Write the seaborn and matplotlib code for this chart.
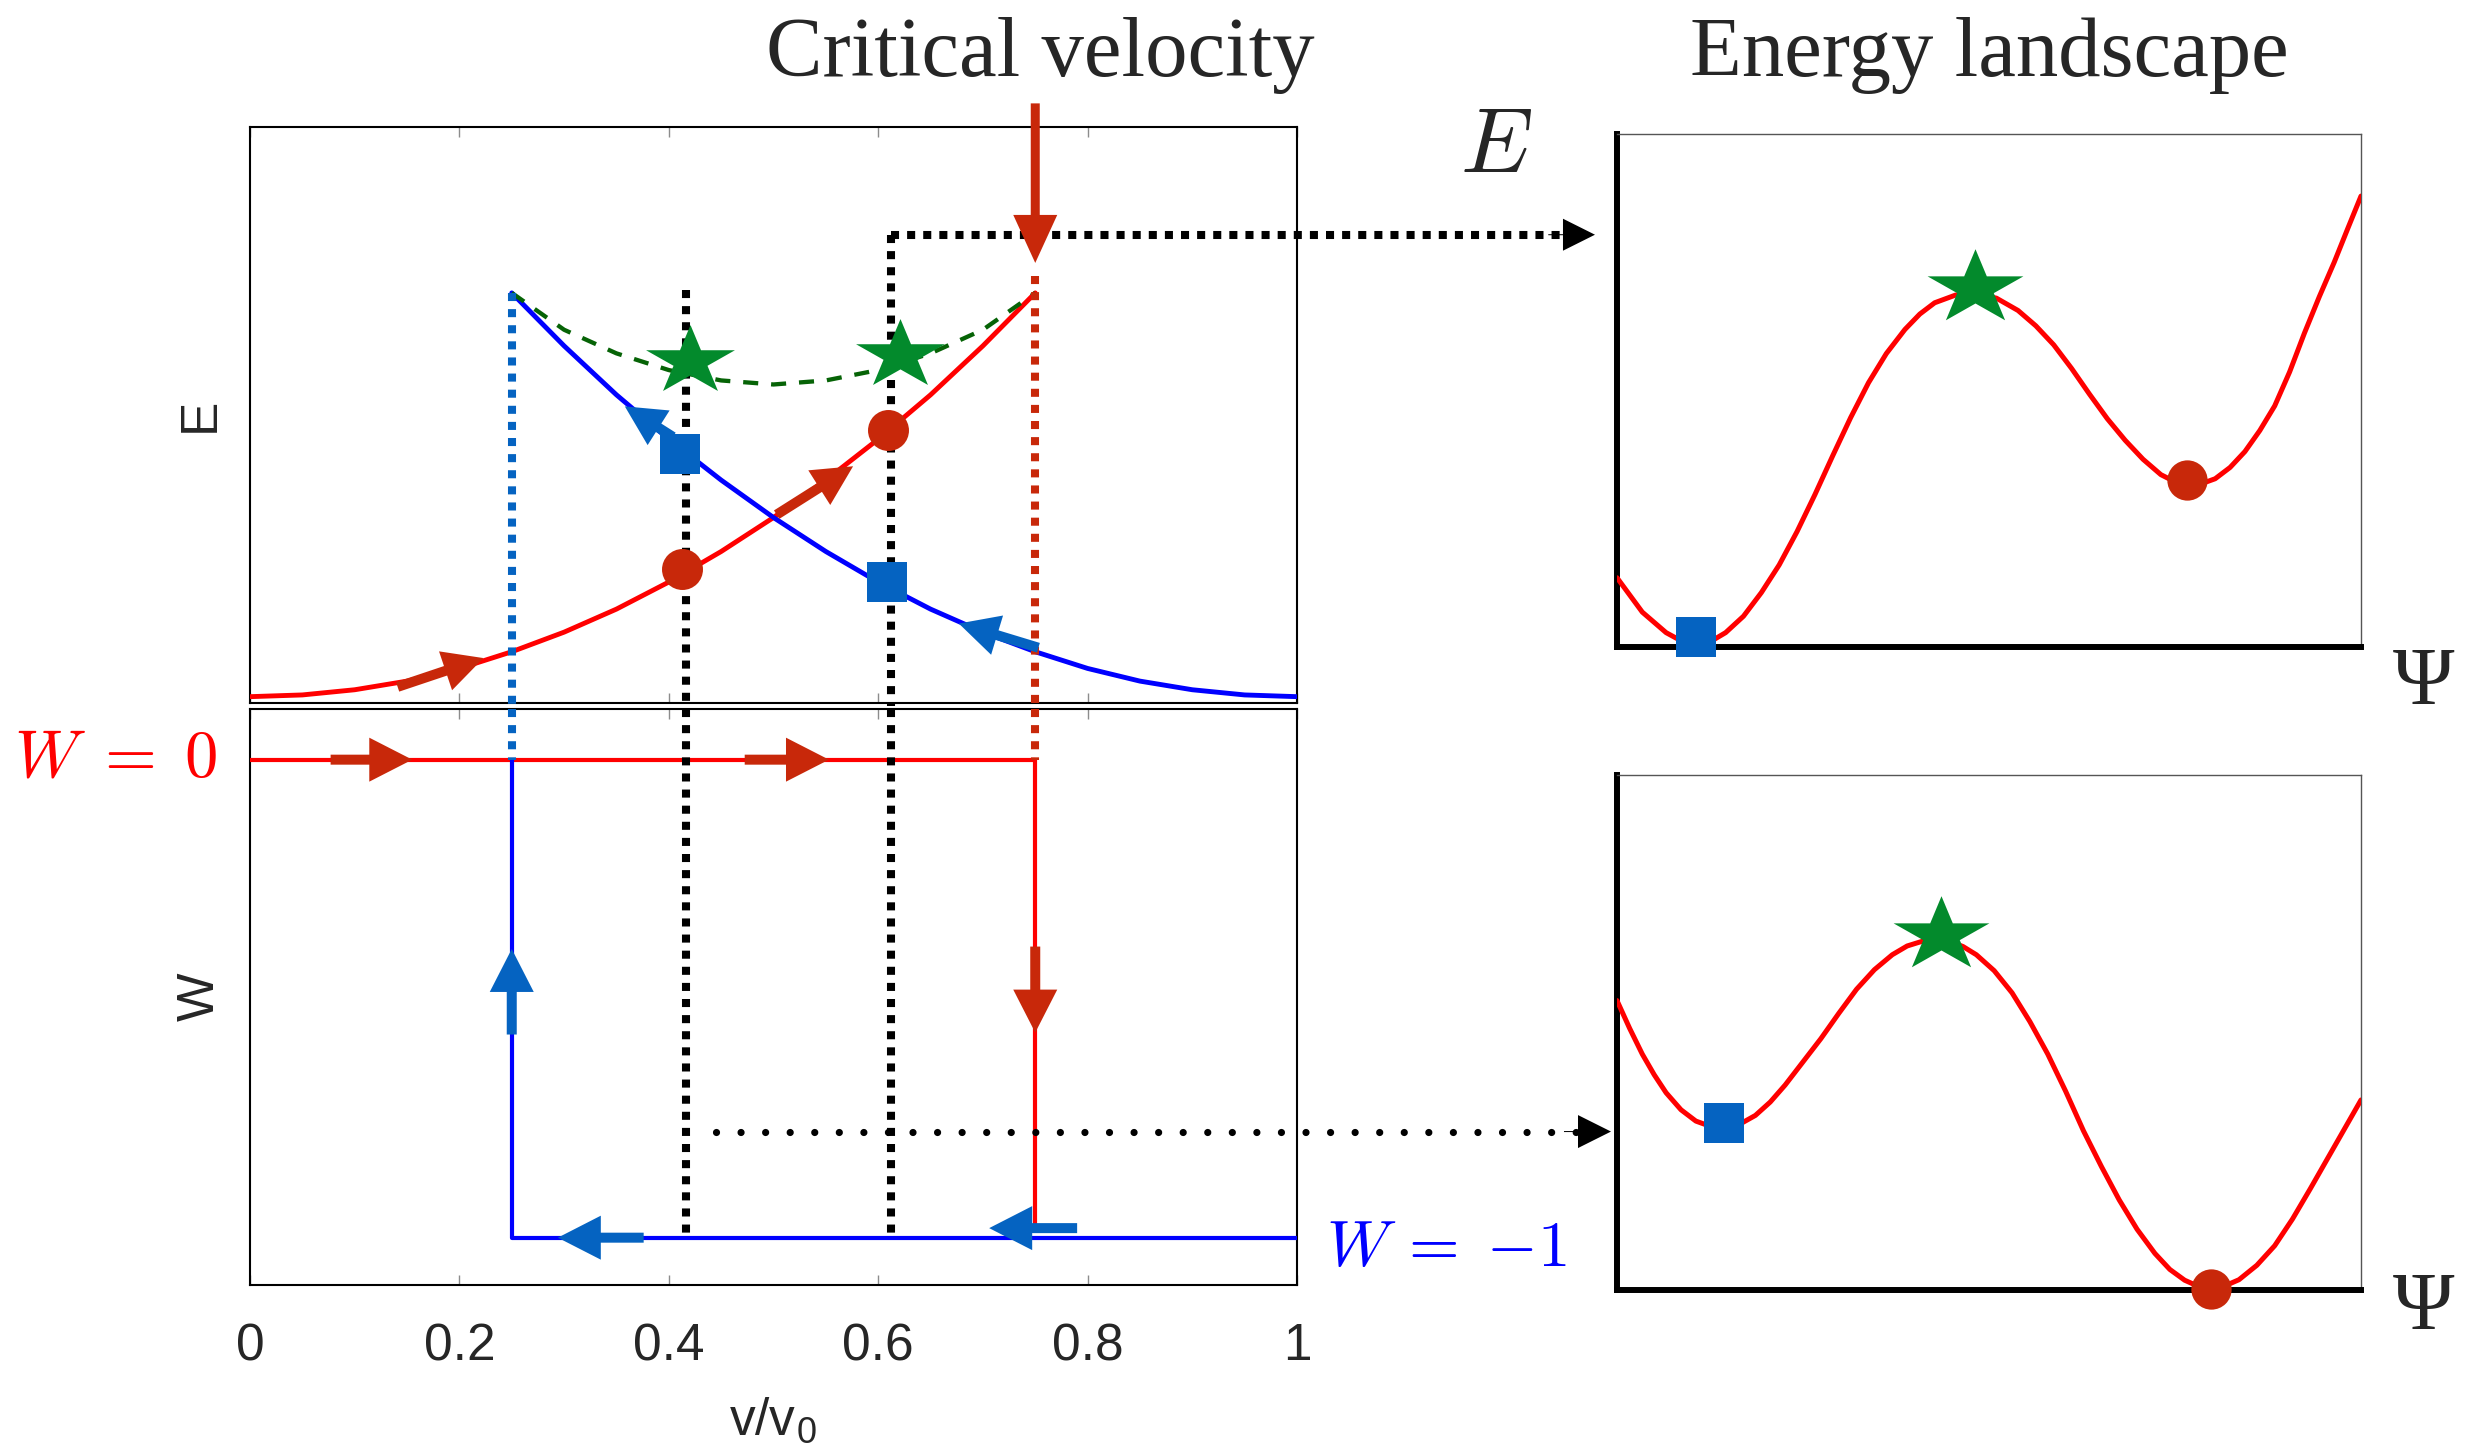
import matplotlib
matplotlib.use("Agg")
import matplotlib.pyplot as plt
from matplotlib.patches import ArrowStyle
from matplotlib.path import Path
import seaborn as sns

# ---------------- data ----------------
v_ticks = [0, 0.2, 0.4, 0.6, 0.8, 1.0]
v_tick_labels = ["0", "0.2", "0.4", "0.6", "0.8", "1"]

# energy of the W=0 branch (red) and the W=-1 branch (blue)
v_state0 = [0.00, 0.05, 0.10, 0.15, 0.20, 0.25, 0.30, 0.35, 0.40, 0.45, 0.50, 0.55, 0.60, 0.65, 0.70, 0.75]
E_state0 = [0.011, 0.014, 0.023, 0.038, 0.060, 0.089, 0.123, 0.163, 0.210, 0.263, 0.322, 0.387, 0.458, 0.535, 0.620, 0.712]
v_state1 = [0.25, 0.30, 0.35, 0.40, 0.45, 0.50, 0.55, 0.60, 0.65, 0.70, 0.75, 0.80, 0.85, 0.90, 0.95, 1.00]
E_state1 = [0.712, 0.620, 0.535, 0.458, 0.387, 0.322, 0.263, 0.210, 0.163, 0.123, 0.089, 0.060, 0.038, 0.023, 0.014, 0.011]
# saddle (barrier) energy
v_saddle = [0.25, 0.30, 0.35, 0.40, 0.45, 0.50, 0.55, 0.60, 0.65, 0.70, 0.75]
E_saddle = [0.712, 0.648, 0.607, 0.578, 0.560, 0.553, 0.560, 0.578, 0.607, 0.648, 0.712]

# winding number branches
v_W0 = [0.0, 0.75, 0.75]
W_W0 = [0.0, 0.0, -0.975]
v_W1 = [1.0, 0.25, 0.25]
W_W1 = [-1.0, -1.0, 0.0]

# characteristic velocities
v_down = 0.25
v_up = 0.75
v_a = 0.416
v_b = 0.612

# state markers on the E(v) panel
circle_v = [0.413, 0.609]
circle_E = [0.233, 0.474]
square_v = [0.411, 0.608]
square_E = [0.433, 0.210]
star_v = [0.420, 0.621]
star_E = [0.593, 0.604]

# energy landscapes E(Psi)
psi_top = [0.000, 0.034, 0.066, 0.085, 0.106, 0.125, 0.146, 0.170, 0.194, 0.218, 0.242, 0.266, 0.290,
           0.314, 0.338, 0.362, 0.387, 0.407, 0.427, 0.455, 0.481, 0.510, 0.539, 0.563, 0.587, 0.611,
           0.635, 0.659, 0.683, 0.707, 0.731, 0.750, 0.766, 0.785, 0.804, 0.824, 0.844, 0.864, 0.884,
           0.904, 0.924, 0.944, 0.964, 0.982, 1.000]
E_land_top = [0.135, 0.068, 0.028, 0.013, 0.006, 0.010, 0.028, 0.060, 0.106, 0.160, 0.225, 0.297, 0.373,
              0.447, 0.515, 0.572, 0.619, 0.649, 0.671, 0.686, 0.690, 0.680, 0.656, 0.626, 0.589, 0.543,
              0.493, 0.445, 0.403, 0.366, 0.336, 0.322, 0.317, 0.318, 0.328, 0.350, 0.381, 0.422, 0.470,
              0.536, 0.612, 0.683, 0.750, 0.815, 0.879]
psi_bot = [0.000, 0.017, 0.034, 0.050, 0.066, 0.086, 0.106, 0.125, 0.144, 0.165, 0.186, 0.206, 0.226,
           0.250, 0.274, 0.298, 0.322, 0.346, 0.370, 0.390, 0.410, 0.427, 0.445, 0.465, 0.483, 0.507,
           0.531, 0.555, 0.579, 0.603, 0.627, 0.651, 0.675, 0.699, 0.723, 0.743, 0.763, 0.780, 0.798,
           0.817, 0.836, 0.860, 0.884, 0.908, 0.932, 0.966, 1.000]
E_land_bot = [0.562, 0.508, 0.458, 0.418, 0.383, 0.350, 0.328, 0.318, 0.316, 0.322, 0.339, 0.365, 0.398,
              0.443, 0.488, 0.537, 0.584, 0.622, 0.651, 0.668, 0.677, 0.682, 0.678, 0.667, 0.651, 0.620,
              0.577, 0.521, 0.458, 0.386, 0.309, 0.240, 0.175, 0.118, 0.071, 0.040, 0.019, 0.008, 0.004,
              0.008, 0.020, 0.048, 0.086, 0.138, 0.197, 0.283, 0.369]
# marker positions in the landscapes: (square, star, circle)
top_sq = (0.106, 0.020)
top_star = (0.481, 0.700)
top_circ = (0.766, 0.325)
bot_sq = (0.144, 0.325)
bot_star = (0.435, 0.689)
bot_circ = (0.798, 0.002)

# ---------------- style ----------------
sns.set_theme(style="white")
plt.rcParams["font.family"] = ["Liberation Sans", "DejaVu Sans"]
plt.rcParams["mathtext.fontset"] = "cm"

RED = "#ff0000"
BLUE = "#0000ff"
DRED = "#c8280a"
DBLUE = "#0563c1"
GREEN = "#038a2c"
DGREEN = "#066306"

FW, FH = 2481, 1447
fig = plt.figure(figsize=(FW / 100, FH / 100), dpi=100)
fig.patch.set_facecolor("white")

axE = fig.add_axes([250 / FW, 1 - 703 / FH, 1047 / FW, 576 / FH])
axW = fig.add_axes([250 / FW, 1 - 1285 / FH, 1047 / FW, 576 / FH])
axL1 = fig.add_axes([1617 / FW, 1 - 647 / FH, 744 / FW, 513 / FH])
axL2 = fig.add_axes([1617 / FW, 1 - 1290 / FH, 744 / FW, 515 / FH])

# squashed star marker
sv = Path.unit_regular_star(5, 0.381966).vertices.copy()
sv[:, 1] *= 0.78
STAR = Path(sv)

# ---------------- left panels ----------------
for ax in (axE, axW):
    ax.set_facecolor("white")
    for sp in ax.spines.values():
        sp.set_linewidth(1.5)
        sp.set_color("black")
    ax.set_xlim(0, 1)
    ax.set_yticks([])
    ax.set_xticks(v_ticks)
    ax.tick_params(axis="x", direction="in", top=True, bottom=True, length=7,
                   width=1.0, color="#8c8c8c", labelsize=37, pad=27)
axE.set_ylim(0, 1)
axW.set_ylim(-1.099, 0.106)
axE.tick_params(labelbottom=False)
axW.set_xticklabels(v_tick_labels)
axW.set_xlabel(r"v/v$_\mathregular{0}$", fontsize=37, labelpad=18)
axE.set_ylabel("E", fontsize=37)
axW.set_ylabel("W", fontsize=37)
axE.yaxis.set_label_coords(-0.024, 0.5)
axW.yaxis.set_label_coords(-0.024, 0.5)

# curves
sns.lineplot(x=v_state0, y=E_state0, ax=axE, color=RED, linewidth=3.5, sort=False, estimator=None, zorder=3)
sns.lineplot(x=v_state1, y=E_state1, ax=axE, color=BLUE, linewidth=3.5, sort=False, estimator=None, zorder=3)
sns.lineplot(x=v_saddle, y=E_saddle, ax=axE, color=DGREEN, linewidth=3.1, sort=False, estimator=None,
             linestyle=(0, (3.5, 3.0)), zorder=3)
sns.lineplot(x=v_W0, y=W_W0, ax=axW, color=RED, linewidth=3.0, sort=False, estimator=None, zorder=3)
sns.lineplot(x=v_W1, y=W_W1, ax=axW, color=BLUE, linewidth=3.0, sort=False, estimator=None, zorder=3)

# dotted guide lines
sq_dot = dict(linestyle=(0, (1, 1)), linewidth=5.8, clip_on=False, zorder=4)
axE.plot([v_a, v_a], [0.717, -0.006], color="black", **sq_dot)
axW.plot([v_a, v_a], [0.106, -1.005], color="black", **sq_dot)
axE.plot([v_b, v_b], [0.813, -0.006], color="black", **sq_dot)
axW.plot([v_b, v_b], [0.106, -1.0], color="black", **sq_dot)
axE.plot([v_b, 1.258], [0.813, 0.813], color="black", **sq_dot)
axE.plot([v_down, v_down], [0.712, -0.006], color=DBLUE, **sq_dot)
axW.plot([v_down, v_down], [0.106, 0.0], color=DBLUE, **sq_dot)
axE.plot([v_up, v_up], [0.742, -0.006], color=DRED, **sq_dot)
axW.plot([v_up, v_up], [0.106, 0.0], color=DRED, **sq_dot)
axW.plot([0.445, 1.268], [-0.778, -0.778], color="black", linestyle=(0, (0.001, 3.4)),
         linewidth=5.2, dash_capstyle="round", clip_on=False, zorder=4)


def arrow(ax, tail, tip, color, hl, hw, tw, z=6):
    ax.annotate("", xy=tip, xytext=tail, xycoords="data", textcoords="data",
                arrowprops=dict(arrowstyle=ArrowStyle.Simple(head_length=hl, head_width=hw, tail_width=tw),
                                mutation_scale=0.72, color=color, lw=0, shrinkA=0, shrinkB=0),
                annotation_clip=False, zorder=z)


# direction arrows on the curves
arrow(axE, (0.141, 0.028), (0.223, 0.078), DRED, 40, 41, 10)
arrow(axE, (0.503, 0.327), (0.576, 0.411), DRED, 40, 41, 10)
arrow(axE, (0.404, 0.462), (0.358, 0.515), DBLUE, 40, 41, 10)
arrow(axE, (0.753, 0.096), (0.677, 0.138), DBLUE, 40, 41, 10)
arrow(axW, (0.077, 0.0), (0.155, 0.0), DRED, 43, 44, 10)
arrow(axW, (0.4725, 0.0), (0.553, 0.0), DRED, 43, 44, 10)
arrow(axW, (0.75, -0.391), (0.75, -0.571), DRED, 43, 44, 10)
arrow(axW, (0.25, -0.575), (0.25, -0.396), DBLUE, 43, 44, 10)
arrow(axW, (0.376, -1.0), (0.294, -1.0), DBLUE, 43, 44, 10)
arrow(axW, (0.79, -0.98), (0.706, -0.98), DBLUE, 43, 44, 10)
# big red arrow (critical velocity)
arrow(axE, (0.75, 1.041), (0.75, 0.764), DRED, 48, 44, 9)
# black arrow heads for the dotted pointers
arrow(axE, (1.24, 0.813), (1.2846, 0.813), "black", 32, 32, 1)
arrow(axW, (1.255, -0.778), (1.2999, -0.778), "black", 33, 33, 1)

# markers
sns.scatterplot(x=circle_v, y=circle_E, ax=axE, marker="o", s=29.5 ** 2, color=DRED, linewidth=0, zorder=7)
sns.scatterplot(x=square_v, y=square_E, ax=axE, marker="s", s=29.5 ** 2, color=DBLUE, linewidth=0, zorder=7)
sns.scatterplot(x=star_v, y=star_E, ax=axE, marker=STAR, s=64 ** 2, color=GREEN, linewidth=0, zorder=7)

# ---------------- right panels (energy landscapes) ----------------
for ax, psi, El, sq, st, ci in ((axL1, psi_top, E_land_top, top_sq, top_star, top_circ),
                                (axL2, psi_bot, E_land_bot, bot_sq, bot_star, bot_circ)):
    ax.set_facecolor("white")
    ax.set_xlim(0, 1)
    ax.set_ylim(0, 1)
    ax.set_xticks([])
    ax.set_yticks([])
    for k in ("left", "bottom"):
        ax.spines[k].set_linewidth(4.3)
        ax.spines[k].set_color("black")
    for k in ("top", "right"):
        ax.spines[k].set_linewidth(1.0)
        ax.spines[k].set_color("#555555")
    sns.lineplot(x=psi, y=El, ax=ax, color=RED, linewidth=3.6, sort=False, estimator=None, zorder=3)
    sns.scatterplot(x=[sq[0]], y=[sq[1]], ax=ax, marker="s", s=29 ** 2, color=DBLUE, linewidth=0,
                    zorder=7, clip_on=False)
    sns.scatterplot(x=[st[0]], y=[st[1]], ax=ax, marker=STAR, s=69 ** 2, color=GREEN, linewidth=0,
                    zorder=7, clip_on=False)
    sns.scatterplot(x=[ci[0]], y=[ci[1]], ax=ax, marker="o", s=29 ** 2, color=DRED, linewidth=0,
                    zorder=7, clip_on=False)

for ax in (axE, axW, axL1, axL2):
    leg = ax.get_legend()
    if leg is not None:
        leg.remove()

# ---------------- texts ----------------
fig.text(1040 / FW, 1 - 76 / FH, "Critical velocity", family="Liberation Serif", fontsize=61,
         ha="center", va="baseline")
fig.text(1989 / FW, 1 - 76 / FH, "Energy landscape", family="Liberation Serif", fontsize=61,
         ha="center", va="baseline")
fig.text(1496 / FW, 1 - 172 / FH, r"$E$", fontsize=66, ha="center", va="baseline")
fig.text(2424 / FW, 1 - 704 / FH, "Ψ", family="Liberation Serif", fontsize=60, ha="center", va="baseline")
fig.text(2424 / FW, 1 - 1329 / FH, "Ψ", family="Liberation Serif", fontsize=60, ha="center", va="baseline")
fig.text(14 / FW, 1 - 777 / FH, r"$W\;=\;0$", fontsize=48, color="red", ha="left", va="baseline")
fig.text(1326 / FW, 1 - 1266 / FH, r"$W\,=\;{-1}$", fontsize=47, color="blue", ha="left", va="baseline")

fig.savefig("out.png", dpi=100, facecolor="white")
